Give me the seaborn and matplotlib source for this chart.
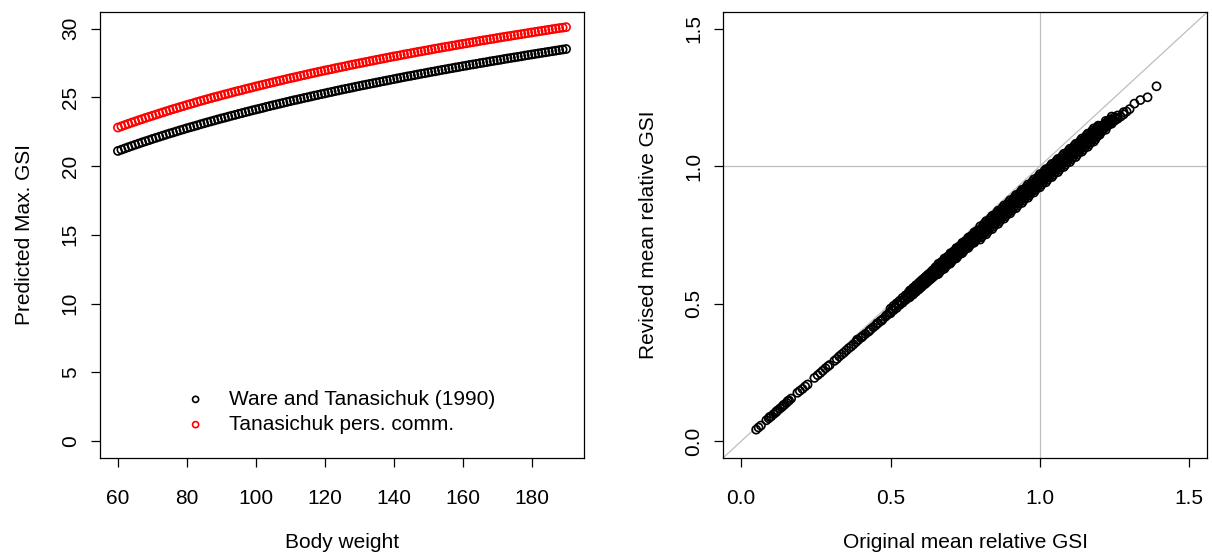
import matplotlib
matplotlib.use("Agg")
import matplotlib.pyplot as plt
import seaborn as sns

# ---- Left panel: predicted maximum GSI against body weight ----
body_weight = list(range(60, 191))

gsi_ware_1990 = [
    21.10,
    21.19, 21.28, 21.37, 21.46, 21.55, 21.63, 21.72, 21.80, 21.88, 21.97,
    22.05, 22.13, 22.21, 22.29, 22.37, 22.44, 22.52, 22.60, 22.67, 22.75,
    22.82, 22.89, 22.96, 23.04, 23.11, 23.18, 23.25, 23.32, 23.39, 23.46,
    23.52, 23.59, 23.66, 23.72, 23.79, 23.85, 23.92, 23.98, 24.05, 24.11,
    24.17, 24.23, 24.30, 24.36, 24.42, 24.48, 24.54, 24.60, 24.66, 24.72,
    24.78, 24.83, 24.89, 24.95, 25.00, 25.06, 25.12, 25.17, 25.23, 25.28,
    25.34, 25.39, 25.45, 25.50, 25.56, 25.61, 25.66, 25.71, 25.77, 25.82,
    25.87, 25.92, 25.97, 26.02, 26.07, 26.12, 26.17, 26.22, 26.27, 26.32,
    26.37, 26.42, 26.47, 26.52, 26.56, 26.61, 26.66, 26.71, 26.75, 26.80,
    26.85, 26.89, 26.94, 26.99, 27.03, 27.08, 27.12, 27.17, 27.21, 27.26,
    27.30, 27.35, 27.39, 27.43, 27.48, 27.52, 27.56, 27.61, 27.65, 27.69,
    27.73, 27.78, 27.82, 27.86, 27.90, 27.94, 27.98, 28.03, 28.07, 28.11,
    28.15, 28.19, 28.23, 28.27, 28.31, 28.35, 28.39, 28.43, 28.47, 28.51,
]

gsi_pers_comm = [
    22.80,
    22.89, 22.98, 23.07, 23.16, 23.24, 23.33, 23.41, 23.50, 23.58, 23.66,
    23.74, 23.82, 23.90, 23.98, 24.06, 24.14, 24.21, 24.29, 24.36, 24.44,
    24.51, 24.58, 24.66, 24.73, 24.80, 24.87, 24.94, 25.01, 25.07, 25.14,
    25.21, 25.27, 25.34, 25.41, 25.47, 25.53, 25.60, 25.66, 25.72, 25.79,
    25.85, 25.91, 25.97, 26.03, 26.09, 26.15, 26.21, 26.27, 26.33, 26.39,
    26.44, 26.50, 26.56, 26.61, 26.67, 26.73, 26.78, 26.84, 26.89, 26.95,
    27.00, 27.05, 27.11, 27.16, 27.21, 27.26, 27.32, 27.37, 27.42, 27.47,
    27.52, 27.57, 27.62, 27.67, 27.72, 27.77, 27.82, 27.87, 27.92, 27.97,
    28.01, 28.06, 28.11, 28.16, 28.20, 28.25, 28.30, 28.34, 28.39, 28.43,
    28.48, 28.53, 28.57, 28.62, 28.66, 28.70, 28.75, 28.79, 28.84, 28.88,
    28.92, 28.97, 29.01, 29.05, 29.10, 29.14, 29.18, 29.22, 29.26, 29.31,
    29.35, 29.39, 29.43, 29.47, 29.51, 29.55, 29.59, 29.63, 29.67, 29.71,
    29.75, 29.79, 29.83, 29.87, 29.91, 29.95, 29.99, 30.03, 30.06, 30.10,
]

series_labels = ["Ware and Tanasichuk (1990)", "Tanasichuk pers. comm."]
series_colors = ["black", "red"]

# ---- Right panel: revised vs original mean relative GSI ----
low_original = [
    0.050, 0.058, 0.066, 0.084, 0.092, 0.095, 0.100, 0.108, 0.115, 0.118,
    0.122, 0.130, 0.137, 0.141, 0.145, 0.152, 0.156, 0.160, 0.167, 0.188,
    0.196, 0.205, 0.214, 0.222, 0.245, 0.256, 0.265, 0.273, 0.282, 0.290,
    0.296, 0.312, 0.320, 0.328, 0.336, 0.344, 0.352, 0.360, 0.368, 0.376,
    0.384, 0.388, 0.392, 0.400, 0.404, 0.408, 0.416, 0.426, 0.430, 0.434,
    0.442, 0.450, 0.455, 0.458, 0.466, 0.470, 0.474, 0.482, 0.486, 0.490,
    0.495,
]
low_revised = [
    0.042, 0.050, 0.057, 0.076, 0.083, 0.088, 0.090, 0.098, 0.104, 0.108,
    0.112, 0.119, 0.125, 0.131, 0.133, 0.140, 0.146, 0.148, 0.155, 0.176,
    0.183, 0.190, 0.199, 0.206, 0.230, 0.240, 0.248, 0.256, 0.265, 0.272,
    0.277, 0.292, 0.299, 0.308, 0.315, 0.322, 0.330, 0.338, 0.344, 0.352,
    0.360, 0.369, 0.368, 0.376, 0.378, 0.383, 0.390, 0.398, 0.403, 0.407,
    0.414, 0.421, 0.428, 0.429, 0.437, 0.438, 0.444, 0.452, 0.457, 0.460,
    0.466,
]

# original value -> revised values observed at that original value
mid_revised = {
    0.50: [0.465, 0.482], 0.51: [0.476, 0.492], 0.52: [0.484, 0.501],
    0.53: [0.495, 0.510], 0.54: [0.503, 0.521], 0.55: [0.513, 0.530],
    0.56: [0.521, 0.540], 0.57: [0.532, 0.549], 0.58: [0.540, 0.560],
    0.59: [0.550, 0.569], 0.60: [0.558, 0.580], 0.61: [0.569, 0.590],
    0.62: [0.576, 0.600], 0.63: [0.586, 0.609], 0.64: [0.595, 0.620],
    0.65: [0.606, 0.620, 0.632], 0.66: [0.608, 0.622, 0.636, 0.645],
    0.67: [0.625, 0.639, 0.651], 0.68: [0.627, 0.641, 0.655, 0.664],
    0.69: [0.644, 0.658, 0.670], 0.70: [0.646, 0.660, 0.674, 0.683],
    0.71: [0.663, 0.677, 0.689], 0.72: [0.665, 0.679, 0.693, 0.702],
    0.73: [0.682, 0.696, 0.708], 0.74: [0.684, 0.698, 0.712, 0.721],
    0.75: [0.701, 0.715, 0.727], 0.76: [0.703, 0.717, 0.731, 0.740],
    0.77: [0.720, 0.734, 0.746], 0.78: [0.722, 0.736, 0.750, 0.759],
    0.79: [0.739, 0.753, 0.765], 0.80: [0.733, 0.750, 0.766, 0.781],
    0.81: [0.751, 0.768, 0.784], 0.82: [0.752, 0.769, 0.785, 0.800],
    0.83: [0.770, 0.787, 0.803], 0.84: [0.771, 0.788, 0.804, 0.819],
    0.85: [0.789, 0.806, 0.822], 0.86: [0.790, 0.807, 0.823, 0.838],
    0.87: [0.808, 0.825, 0.841], 0.88: [0.809, 0.826, 0.842, 0.857],
    0.89: [0.827, 0.844, 0.860], 0.90: [0.828, 0.845, 0.861, 0.876],
    0.91: [0.846, 0.863, 0.879], 0.92: [0.847, 0.864, 0.880, 0.895],
    0.93: [0.865, 0.882, 0.898], 0.94: [0.866, 0.883, 0.899, 0.914],
    0.95: [0.884, 0.901, 0.917], 0.96: [0.885, 0.902, 0.918, 0.933],
    0.97: [0.903, 0.920, 0.936], 0.98: [0.904, 0.921, 0.937, 0.952],
    0.99: [0.922, 0.939, 0.955], 1.00: [0.923, 0.940, 0.956, 0.971],
    1.01: [0.940, 0.957, 0.973], 1.02: [0.941, 0.958, 0.974, 0.989],
    1.03: [0.959, 0.976, 0.992], 1.04: [0.960, 0.977, 0.993, 1.008],
    1.05: [0.977, 0.994, 1.010], 1.06: [0.978, 0.995, 1.011, 1.026],
    1.07: [0.995, 1.012, 1.028], 1.08: [0.997, 1.014, 1.030, 1.045],
    1.09: [1.014, 1.031, 1.047], 1.10: [1.015, 1.032, 1.048, 1.063],
    1.11: [1.032, 1.049, 1.065], 1.12: [1.033, 1.050, 1.066, 1.081],
    1.13: [1.051, 1.068, 1.084], 1.14: [1.052, 1.069, 1.085, 1.100],
    1.15: [1.069, 1.086, 1.102], 1.16: [1.070, 1.087, 1.103, 1.118],
    1.17: [1.087, 1.104, 1.120], 1.18: [1.089, 1.106, 1.122, 1.137],
    1.19: [1.106, 1.123, 1.139], 1.20: [1.114, 1.130, 1.146],
    1.21: [1.131, 1.147], 1.22: [1.132, 1.148, 1.164],
    1.23: [1.150, 1.166], 1.24: [1.154, 1.169, 1.180],
    1.25: [1.165, 1.178], 1.26: [1.172, 1.184],
}

mid_revised_half = {
    0.505: [0.478], 0.515: [0.487], 0.525: [0.497], 0.535: [0.506],
    0.545: [0.516], 0.555: [0.525],
    0.565: [0.524, 0.536, 0.548], 0.575: [0.533, 0.545, 0.557],
    0.585: [0.543, 0.555, 0.567], 0.595: [0.552, 0.564, 0.576],
    0.605: [0.562, 0.574, 0.586], 0.615: [0.571, 0.583, 0.595],
    0.625: [0.581, 0.593, 0.605], 0.635: [0.590, 0.602, 0.614],
    0.645: [0.600, 0.612, 0.624], 0.655: [0.606, 0.620, 0.634],
    0.665: [0.616, 0.630, 0.644], 0.675: [0.625, 0.639, 0.653],
    0.685: [0.635, 0.649, 0.663], 0.695: [0.644, 0.658, 0.672],
    0.705: [0.654, 0.668, 0.682], 0.715: [0.663, 0.677, 0.691],
    0.725: [0.673, 0.687, 0.701], 0.735: [0.682, 0.696, 0.710],
    0.745: [0.692, 0.706, 0.720], 0.755: [0.701, 0.715, 0.729],
    0.765: [0.711, 0.725, 0.739], 0.775: [0.720, 0.734, 0.748],
    0.785: [0.730, 0.744, 0.758], 0.795: [0.739, 0.753, 0.767],
    0.805: [0.742, 0.759, 0.775], 0.815: [0.760, 0.776, 0.792],
    0.825: [0.761, 0.778, 0.794], 0.835: [0.779, 0.795, 0.811],
    0.845: [0.780, 0.797, 0.813], 0.855: [0.798, 0.814, 0.830],
    0.865: [0.799, 0.816, 0.832], 0.875: [0.817, 0.833, 0.849],
    0.885: [0.818, 0.835, 0.851], 0.895: [0.836, 0.852, 0.868],
    0.905: [0.837, 0.854, 0.870], 0.915: [0.855, 0.871, 0.887],
    0.925: [0.856, 0.873, 0.889], 0.935: [0.874, 0.890, 0.906],
    0.945: [0.875, 0.892, 0.908], 0.955: [0.893, 0.909, 0.925],
    0.965: [0.894, 0.911, 0.927], 0.975: [0.912, 0.928, 0.944],
    0.985: [0.913, 0.930, 0.946], 0.995: [0.931, 0.947, 0.963],
    1.005: [0.932, 0.949, 0.965], 1.015: [0.950, 0.966, 0.982],
    1.025: [0.950, 0.967, 0.983], 1.035: [0.968, 0.984, 1.000],
    1.045: [0.968, 0.985, 1.001], 1.055: [0.987, 1.003, 1.019],
    1.065: [0.987, 1.004, 1.020], 1.075: [1.005, 1.021, 1.037],
    1.085: [1.005, 1.022, 1.038], 1.095: [1.023, 1.039, 1.055],
    1.105: [1.024, 1.041, 1.057], 1.115: [1.042, 1.058, 1.074],
    1.125: [1.042, 1.059, 1.075], 1.135: [1.060, 1.076, 1.092],
    1.145: [1.060, 1.077, 1.093], 1.155: [1.079, 1.095, 1.111],
    1.165: [1.079, 1.096, 1.112], 1.175: [1.097, 1.113, 1.129],
    1.185: [1.097, 1.114, 1.130], 1.195: [1.115, 1.131, 1.147],
    1.205: [1.124, 1.140], 1.215: [1.137, 1.152],
    1.225: [1.145, 1.160], 1.235: [1.156, 1.170],
    1.245: [1.166], 1.255: [1.172],
}

tail_original = [1.27, 1.28, 1.28, 1.29, 1.30, 1.316, 1.336, 1.360, 1.390]
tail_revised = [1.180, 1.188, 1.196, 1.198, 1.207, 1.227, 1.240, 1.250, 1.290]

orig_gsi = list(low_original)
rev_gsi = list(low_revised)
for table in (mid_revised, mid_revised_half):
    for x_val, ys in table.items():
        orig_gsi.extend([x_val] * len(ys))
        rev_gsi.extend(ys)
orig_gsi.extend(tail_original)
rev_gsi.extend(tail_revised)

# ---- Styling ----
sns.set_style("ticks")
plt.rcParams["font.family"] = ["Liberation Sans", "DejaVu Sans"]
FS = 15
plt.rcParams.update({
    "font.size": FS,
    "axes.edgecolor": "black",
    "axes.linewidth": 0.9,
    "xtick.color": "black",
    "ytick.color": "black",
    "xtick.major.width": 0.9,
    "ytick.major.width": 0.9,
    "xtick.major.size": 6.5,
    "ytick.major.size": 6.5,
    "xtick.direction": "out",
    "ytick.direction": "out",
    "axes.labelcolor": "black",
    "text.color": "black",
})

fig = plt.figure(figsize=(12.12, 5.55), dpi=100)
ax1 = fig.add_axes([100 / 1212, 1 - 457.7 / 555, 484 / 1212, 445.7 / 555])
ax2 = fig.add_axes([723.3 / 1212, 1 - 457.7 / 555, 484 / 1212, 445.7 / 555])

MS = 34
MLW = 1.2

for values, label, color in zip([gsi_ware_1990, gsi_pers_comm], series_labels, series_colors):
    sns.scatterplot(x=body_weight, y=values, ax=ax1, marker="o", s=MS,
                    facecolors="none", edgecolor=color, linewidth=MLW,
                    label=label, legend=False)

ax1.set_xlim(54.8, 195.2)
ax1.set_ylim(-1.2, 31.2)
ax1.set_xticks([60, 80, 100, 120, 140, 160, 180])
ax1.set_yticks([0, 5, 10, 15, 20, 25, 30])
ax1.set_xlabel("Body weight", fontsize=FS, labelpad=18)
ax1.set_ylabel("Predicted Max. GSI", fontsize=FS, labelpad=19)
ax1.legend(loc="lower left", bbox_to_anchor=(0.176, 0.053), frameon=False,
           handlelength=1.0, handletextpad=1.1, borderpad=0, borderaxespad=0,
           labelspacing=0.3, fontsize=FS, markerscale=0.75)

# reference lines behind the points
grey = "#BEBEBE"
ax2.axline((0, 0), slope=1, color=grey, lw=0.9, zorder=0)
ax2.axvline(1.0, color=grey, lw=0.9, zorder=0)
ax2.axhline(1.0, color=grey, lw=0.9, zorder=0)
sns.scatterplot(x=orig_gsi, y=rev_gsi, ax=ax2, marker="o", s=MS,
                facecolors="none", edgecolor="black", linewidth=MLW,
                legend=False, zorder=2)
ax2.set_xlim(-0.06, 1.56)
ax2.set_ylim(-0.06, 1.56)
ax2.set_xticks([0.0, 0.5, 1.0, 1.5])
ax2.set_yticks([0.0, 0.5, 1.0, 1.5])
ax2.set_xticklabels(["0.0", "0.5", "1.0", "1.5"])
ax2.set_yticklabels(["0.0", "0.5", "1.0", "1.5"])
ax2.set_xlabel("Original mean relative GSI", fontsize=FS, labelpad=18)
ax2.set_ylabel("Revised mean relative GSI", fontsize=FS, labelpad=19)

for ax in (ax1, ax2):
    for side in ("top", "right", "bottom", "left"):
        ax.spines[side].set_visible(True)
        ax.spines[side].set_color("black")
    ax.tick_params(axis="x", labelsize=FS, pad=16)
    ax.tick_params(axis="y", labelsize=FS, pad=8, labelrotation=90)
    for lab in ax.get_yticklabels():
        lab.set_va("center")

fig.savefig("out.png", dpi=100)
